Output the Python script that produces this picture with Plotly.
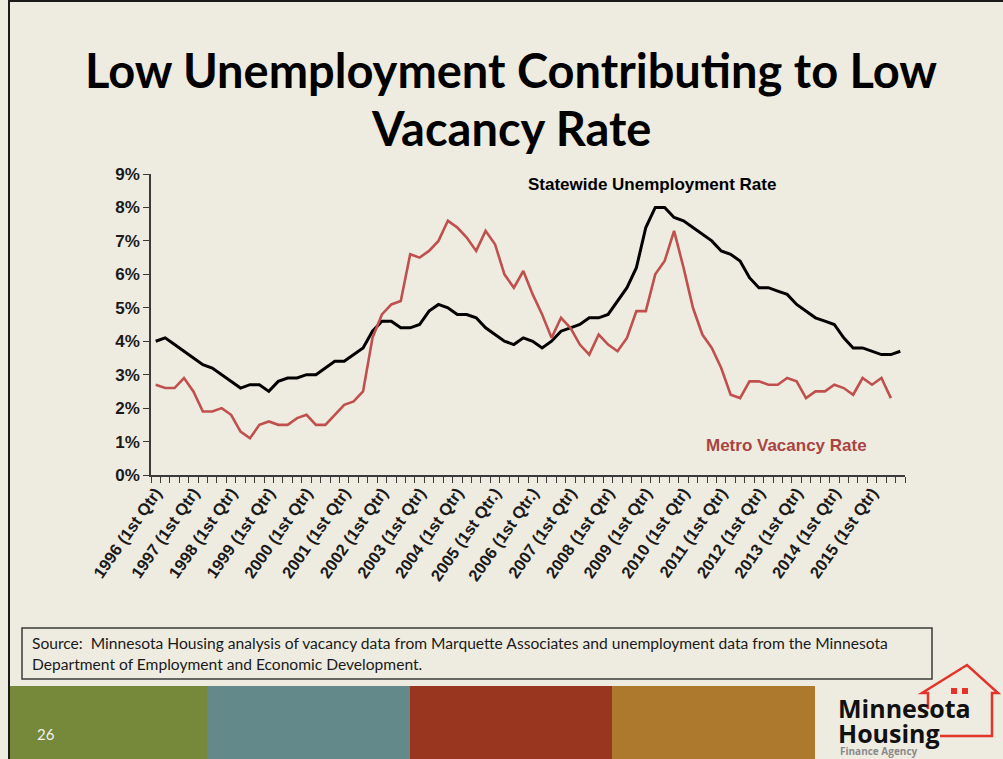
import plotly.graph_objects as go

W, H = 1003, 759

# ---- data ----
years = list(range(1996, 2016))
quarter_names = ["Q1", "Q2", "Q3", "Q4"]
quarters = [f"{y} {q}" for y in years for q in quarter_names]

unemployment = [
    4.0, 4.1, 3.9, 3.7, 3.5, 3.3, 3.2, 3.0, 2.8, 2.6,
    2.7, 2.7, 2.5, 2.8, 2.9, 2.9, 3.0, 3.0, 3.2, 3.4,
    3.4, 3.6, 3.8, 4.3, 4.6, 4.6, 4.4, 4.4, 4.5, 4.9,
    5.1, 5.0, 4.8, 4.8, 4.7, 4.4, 4.2, 4.0, 3.9, 4.1,
    4.0, 3.8, 4.0, 4.3, 4.4, 4.5, 4.7, 4.7, 4.8, 5.2,
    5.6, 6.2, 7.4, 8.0, 8.0, 7.7, 7.6, 7.4, 7.2, 7.0,
    6.7, 6.6, 6.4, 5.9, 5.6, 5.6, 5.5, 5.4, 5.1, 4.9,
    4.7, 4.6, 4.5, 4.1, 3.8, 3.8, 3.7, 3.6, 3.6, 3.7,
]

vacancy = [
    2.7, 2.6, 2.6, 2.9, 2.5, 1.9, 1.9, 2.0, 1.8, 1.3,
    1.1, 1.5, 1.6, 1.5, 1.5, 1.7, 1.8, 1.5, 1.5, 1.8,
    2.1, 2.2, 2.5, 4.1, 4.8, 5.1, 5.2, 6.6, 6.5, 6.7,
    7.0, 7.6, 7.4, 7.1, 6.7, 7.3, 6.9, 6.0, 5.6, 6.1,
    5.4, 4.8, 4.1, 4.7, 4.4, 3.9, 3.6, 4.2, 3.9, 3.7,
    4.1, 4.9, 4.9, 6.0, 6.4, 7.3, 6.2, 5.0, 4.2, 3.8,
    3.2, 2.4, 2.3, 2.8, 2.8, 2.7, 2.7, 2.9, 2.8, 2.3,
    2.5, 2.5, 2.7, 2.6, 2.4, 2.9, 2.7, 2.9, 2.3, None,
]

tick_labels = [
    "1996 (1st Qtr)", "1997 (1st Qtr)", "1998 (1st Qtr)", "1999 (1st Qtr)",
    "2000 (1st Qtr)", "2001 (1st Qtr)", "2002 (1st Qtr)", "2003 (1st Qtr)",
    "2004 (1st Qtr)", "2005 (1st Qtr.)", "2006 (1st Qtr.)", "2007 (1st Qtr)",
    "2008 (1st Qtr)", "2009 (1st Qtr)", "2010 (1st Qtr)", "2011 (1st Qtr)",
    "2012 (1st Qtr)", "2013 (1st Qtr)", "2014 (1st Qtr)", "2015 (1st Qtr)",
]
y_ticks = [0, 1, 2, 3, 4, 5, 6, 7, 8, 9]
y_tick_labels = ["0%", "1%", "2%", "3%", "4%", "5%", "6%", "7%", "8%", "9%"]

# ---- helpers ----
def px(x):
    return x / W

def py(y):
    return 1 - y / H

xidx = list(range(len(quarters)))
tick_positions = [quarters.index(f"{y} Q1") for y in years]

BG = "#EEECE1"
AXIS = "#3A3A3A"

fig = go.Figure()
fig.add_trace(go.Scatter(
    x=xidx, y=unemployment, mode="lines", name="Statewide Unemployment Rate",
    line=dict(color="#000000", width=3), customdata=quarters,
    hovertemplate="%{customdata}: %{y}%<extra></extra>",
))
fig.add_trace(go.Scatter(
    x=xidx, y=vacancy, mode="lines", name="Metro Vacancy Rate",
    line=dict(color="#C0504D", width=2.6), customdata=quarters,
    hovertemplate="%{customdata}: %{y}%<extra></extra>",
))

fig.update_layout(
    template="none",
    width=W, height=H,
    margin=dict(l=0, r=0, t=0, b=0, pad=0, autoexpand=False),
    paper_bgcolor=BG, plot_bgcolor=BG,
    showlegend=False,
    xaxis=dict(
        domain=[px(151), px(905)], automargin=False,
        range=[-0.5, len(quarters) - 0.5],
        tickmode="array", tickvals=tick_positions, ticktext=tick_labels,
        tickangle=-55, ticks="", showgrid=False, zeroline=False,
        showline=True, linecolor=AXIS, linewidth=1.5,
        tickfont=dict(family="Arial, Liberation Sans", size=16.5, color="#1a1a1a", weight="bold"),
        minor=dict(ticks="outside", tick0=-0.5, dtick=1, ticklen=6, tickcolor=AXIS, tickwidth=1, showgrid=False),
    ),
    yaxis=dict(
        domain=[py(475), py(174)], automargin=False,
        range=[0, 9], tickmode="array", tickvals=y_ticks, ticktext=y_tick_labels,
        ticks="outside", ticklen=6, tickcolor=AXIS, tickwidth=1.2,
        showgrid=False, zeroline=False,
        showline=True, linecolor=AXIS, linewidth=1.5,
        tickfont=dict(family="Arial, Liberation Sans", size=17, color="#1a1a1a", weight="bold"),
    ),
)

ann = []
title_font = dict(family="Lato", size=47, color="#000000", weight="bold")
ann.append(dict(text="Low Unemployment Contributing to Low", x=px(511), y=py(70),
                xref="paper", yref="paper", showarrow=False, xanchor="center", yanchor="middle", font=title_font))
ann.append(dict(text="Vacancy Rate", x=px(511), y=py(128),
                xref="paper", yref="paper", showarrow=False, xanchor="center", yanchor="middle", font=title_font))
ann.append(dict(text="Statewide Unemployment Rate", x=px(652), y=py(185),
                xref="paper", yref="paper", showarrow=False, xanchor="center", yanchor="middle",
                font=dict(family="Arial, Liberation Sans", size=17, color="#000000", weight="bold")))
ann.append(dict(text="Metro Vacancy Rate", x=px(786), y=py(445),
                xref="paper", yref="paper", showarrow=False, xanchor="center", yanchor="middle",
                font=dict(family="Arial, Liberation Sans", size=17, color="#A94442", weight="bold")))
src_font = dict(family="Lato", size=15.6, color="#1a1a1a")
ann.append(dict(text="Source:  Minnesota Housing analysis of vacancy data from Marquette Associates and unemployment data from the Minnesota",
                x=px(30), y=py(643), xref="paper", yref="paper", showarrow=False,
                xanchor="left", yanchor="middle", font=src_font))
ann.append(dict(text="Department of Employment and Economic Development.",
                x=px(30), y=py(664), xref="paper", yref="paper", showarrow=False,
                xanchor="left", yanchor="middle", font=src_font))
ann.append(dict(text="26", x=px(35), y=py(734), xref="paper", yref="paper", showarrow=False,
                xanchor="left", yanchor="middle",
                font=dict(family="Lato", size=15, color="#F2F2F2")))
# logo text (one block, tight line spacing)
ann.append(dict(text="<span style='font-size:25px'>Minnesota</span><br><span style='font-size:25px'>Housing</span>",
                x=px(836), y=py(720), xref="paper", yref="paper", showarrow=False,
                xanchor="left", yanchor="middle", align="left",
                font=dict(family="Open Sans, Noto Sans", size=19, color="#111111", weight="bold")))
ann.append(dict(text="Finance Agency", x=px(838), y=py(751), xref="paper", yref="paper", showarrow=False,
                xanchor="left", yanchor="middle",
                font=dict(family="Open Sans, Noto Sans", size=10, color="#8A8A8A", weight="bold")))
fig.update_layout(annotations=ann)

shapes = []
# slide borders
shapes.append(dict(type="line", xref="paper", yref="paper", x0=px(9), x1=px(9), y0=0, y1=1,
                   line=dict(color="#1a1a1a", width=2)))
shapes.append(dict(type="line", xref="paper", yref="paper", x0=px(9), x1=1, y0=py(1), y1=py(1),
                   line=dict(color="#1a1a1a", width=2)))
# source box
shapes.append(dict(type="rect", xref="paper", yref="paper", x0=px(22), x1=px(932), y0=py(679), y1=py(628),
                   line=dict(color="#3a3a3a", width=1.5), fillcolor="rgba(0,0,0,0)"))
# color bands
bands = [(10, 207, "#76883A"), (207, 410, "#64898B"), (410, 612, "#98361F"), (612, 815, "#AD7A2D")]
for x0, x1, c in bands:
    shapes.append(dict(type="rect", xref="paper", yref="paper", x0=px(x0), x1=px(x1), y0=0, y1=py(686),
                       line=dict(width=0), fillcolor=c, layer="below"))
# house outline
def pth(points, close=False):
    s = "M " + " L ".join(f"{px(a):.5f},{py(b):.5f}" for a, b in points)
    return s + (" Z" if close else "")
red = "#E63329"
shapes.append(dict(type="path", xref="paper", yref="paper",
                   path=pth([(928, 709), (928, 693), (922, 693), (967, 665), (998, 693), (992, 693), (992, 736), (940, 736)]),
                   line=dict(color=red, width=2.5), fillcolor="rgba(0,0,0,0)"))
for wx in (951, 962):
    shapes.append(dict(type="rect", xref="paper", yref="paper", x0=px(wx), x1=px(wx + 6), y0=py(694), y1=py(688),
                       line=dict(width=0), fillcolor=red))
fig.update_layout(shapes=shapes)

fig.write_html(
    "out.html",
    config={"displayModeBar": False},
    post_script="document.body.style.margin='0px';document.body.style.overflow='hidden';",
)
